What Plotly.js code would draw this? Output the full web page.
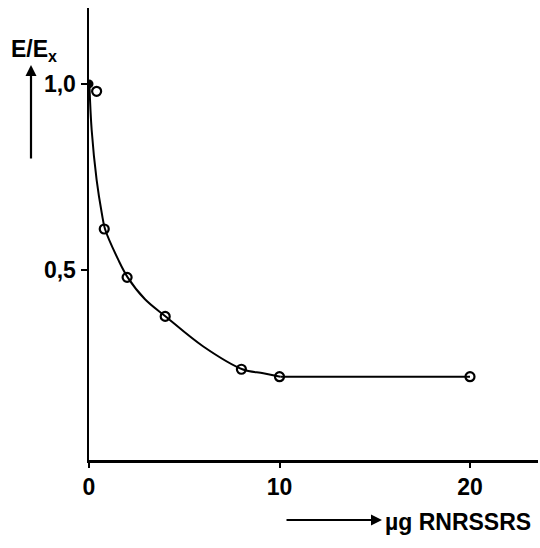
<!DOCTYPE html>
<html>
<head>
<meta charset="utf-8">
<script src="https://cdn.plot.ly/plotly-3.0.1.min.js"></script>
<style>html,body{margin:0;padding:0;background:#fff;}#chart{width:540px;height:548px;}</style>
</head>
<body>
<div id="chart"></div>
<script>
// measured points
const amountUg = [0, 0.4, 0.8, 2, 4, 8, 10, 20];
const ratioE = [1.0, 0.98, 0.61, 0.48, 0.375, 0.233, 0.213, 0.213];
// hand-drawn curve
const curveX = [0.02, 0.14, 0.40, 0.67, 0.84, 1.54, 2.03, 2.94, 4.04, 6.0, 8.05, 9.15, 10.05];
const curveY = [1.0, 0.876, 0.742, 0.653, 0.61, 0.527, 0.48, 0.421, 0.374, 0.294, 0.233, 0.222, 0.213];
// straight plateau segment
const plateauX = [10.05, 20];
const plateauY = [0.213, 0.213];
const xTicks = [0, 10, 20];
const xTickText = ['0', '10', '20'];
const yTicks = [0.5, 1.0];
const yTickText = ['0,5', '1,0'];

const FONT = '"Liberation Sans", Arial, sans-serif';

const traces = [
  {x: curveX, y: curveY, mode: 'lines', line: {color: '#000', width: 2, shape: 'spline', smoothing: 1}, hoverinfo: 'skip'},
  {x: plateauX, y: plateauY, mode: 'lines', line: {color: '#000', width: 2}, hoverinfo: 'skip'},
  {x: amountUg.slice(1), y: ratioE.slice(1), mode: 'markers',
   marker: {symbol: 'circle-open', size: 9, color: '#000', line: {width: 2.2, color: '#000'}}},
  {x: amountUg.slice(0, 1), y: ratioE.slice(0, 1), mode: 'markers',
   marker: {symbol: 'circle', size: 9, color: '#000'}}
];

const tf = {family: FONT, size: 23, color: '#000', weight: 'bold'};

const layout = {
  width: 540, height: 548,
  margin: {l: 89, r: 2, t: 8, b: 88},
  paper_bgcolor: '#fff', plot_bgcolor: '#fff',
  showlegend: false,
  font: tf,
  xaxis: {range: [0, 23.57], showgrid: false, zeroline: false, showline: true, linecolor: '#000', linewidth: 2.5,
    tickmode: 'array', tickvals: xTicks, ticktext: xTickText, ticks: 'outside', ticklen: 5, tickwidth: 2, tickcolor: '#000',
    tickfont: tf},
  yaxis: {range: [-0.011, 1.204], showgrid: false, zeroline: false, showline: true, linecolor: '#000', linewidth: 2.5,
    tickmode: 'array', tickvals: yTicks, ticktext: yTickText, ticks: 'outside', ticklen: 6, tickwidth: 2, tickcolor: '#000',
    tickfont: tf},
  annotations: [
    {xref: 'paper', yref: 'paper', x: (9 - 89) / 449, y: (460 - 51) / 452, xanchor: 'left', yanchor: 'middle', showarrow: false,
     text: 'E/E<sub>x</sub>', font: tf},
    {xref: 'paper', yref: 'paper', x: (31 - 89) / 449, y: (460 - 65) / 452, text: '', showarrow: true,
     axref: 'pixel', ayref: 'pixel', ax: 0, ay: 95, arrowhead: 2, arrowsize: 1, arrowwidth: 2.2, arrowcolor: '#000'},
    {xref: 'paper', yref: 'paper', x: (382 - 89) / 449, y: (460 - 520) / 452, text: '', showarrow: true,
     axref: 'pixel', ayref: 'pixel', ax: -97, ay: 0, arrowhead: 2, arrowsize: 1, arrowwidth: 2.2, arrowcolor: '#000'},
    {xref: 'paper', yref: 'paper', x: (383 - 89) / 449, y: (460 - 522) / 452, xanchor: 'left', yanchor: 'middle', showarrow: false,
     text: 'µg RNRSSRS', font: tf}
  ]
};

Plotly.newPlot('chart', traces, layout, {staticPlot: true, displayModeBar: false});
</script>
</body>
</html>
